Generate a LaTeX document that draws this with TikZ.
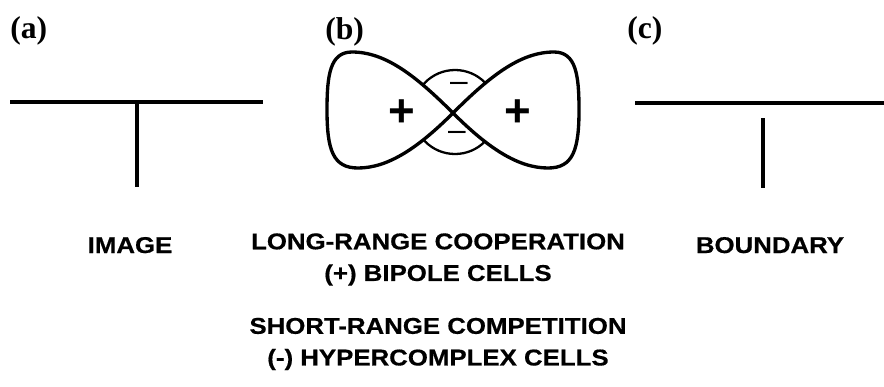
\documentclass[tikz,border=0pt]{standalone}
\usepackage{fontspec}
\setmainfont{Liberation Serif}
\newfontfamily\capfont[FakeStretch=1.13, FakeBold=0.6]{Liberation Sans}
\newfontfamily\signfont{Liberation Sans}
\usetikzlibrary{positioning}

\begin{document}
\begin{tikzpicture}[x=0.02cm, y=-0.02cm,
    edge/.style={line width=2.2pt},
    lobe/.style={line width=1.9pt, fill=white, line join=round},
    ring/.style={line width=1.3pt},
    panel/.style={font=\fontsize{18}{20}\selectfont\bfseries, anchor=base west, inner sep=0pt},
    caption/.style={font=\capfont\bfseries\fontsize{13}{18}\selectfont, align=center, inner sep=0pt},
    sign/.style={font=\signfont\bfseries\fontsize{26}{26}\selectfont, inner sep=0pt}]
    \useasboundingbox (0,0) rectangle (884,386);
    \node[panel] (laba) at (10,38) {(a)};
    \node[panel] (labb) at (325,39) {(b)};
    \node[panel] (labc) at (627,38) {(c)};
    \draw[edge] (10,102) -- (263,102);
    \draw[edge] (137,102) -- (137,187);
    \draw[edge] (635,103) -- (884,103);
    \draw[edge] (763,118) -- (763,188);
    \draw[ring] (455,112) circle (42);
    \draw[lobe] (453,113) .. controls (415,75) and (385,52) .. (352,52)
        .. controls (330,52) and (327,75) .. (327,110)
        .. controls (327,150) and (333,168) .. (358,168)
        .. controls (388,168) and (418,148) .. (453,113);
    \draw[lobe] (453,113) .. controls (491,75) and (521,52) .. (554,52)
        .. controls (576,52) and (579,75) .. (579,110)
        .. controls (579,150) and (573,168) .. (548,168)
        .. controls (518,168) and (488,148) .. (453,113);
    \node[sign] (plusl) at (402,113) {+};
    \node[sign] (plusr) at (518,113) {+};
    \node[font=\signfont\fontsize{18}{18}\selectfont, inner sep=0pt] (mint) at (459,87) {–};
    \node[font=\signfont\fontsize{18}{18}\selectfont, inner sep=0pt] (minb) at (457,136) {–};
    \node[caption, anchor=base] (image) at (130,253) {IMAGE};
    \node[caption, anchor=base] (bound) at (770,253) {BOUNDARY};
    \node[caption, anchor=north] (coop) at (438,233) {LONG-RANGE COOPERATION\\(+) BIPOLE CELLS};
    \node[caption, below=0.63cm of coop] (comp) {SHORT-RANGE COMPETITION\\(-) HYPERCOMPLEX CELLS};
\end{tikzpicture}
\end{document}
